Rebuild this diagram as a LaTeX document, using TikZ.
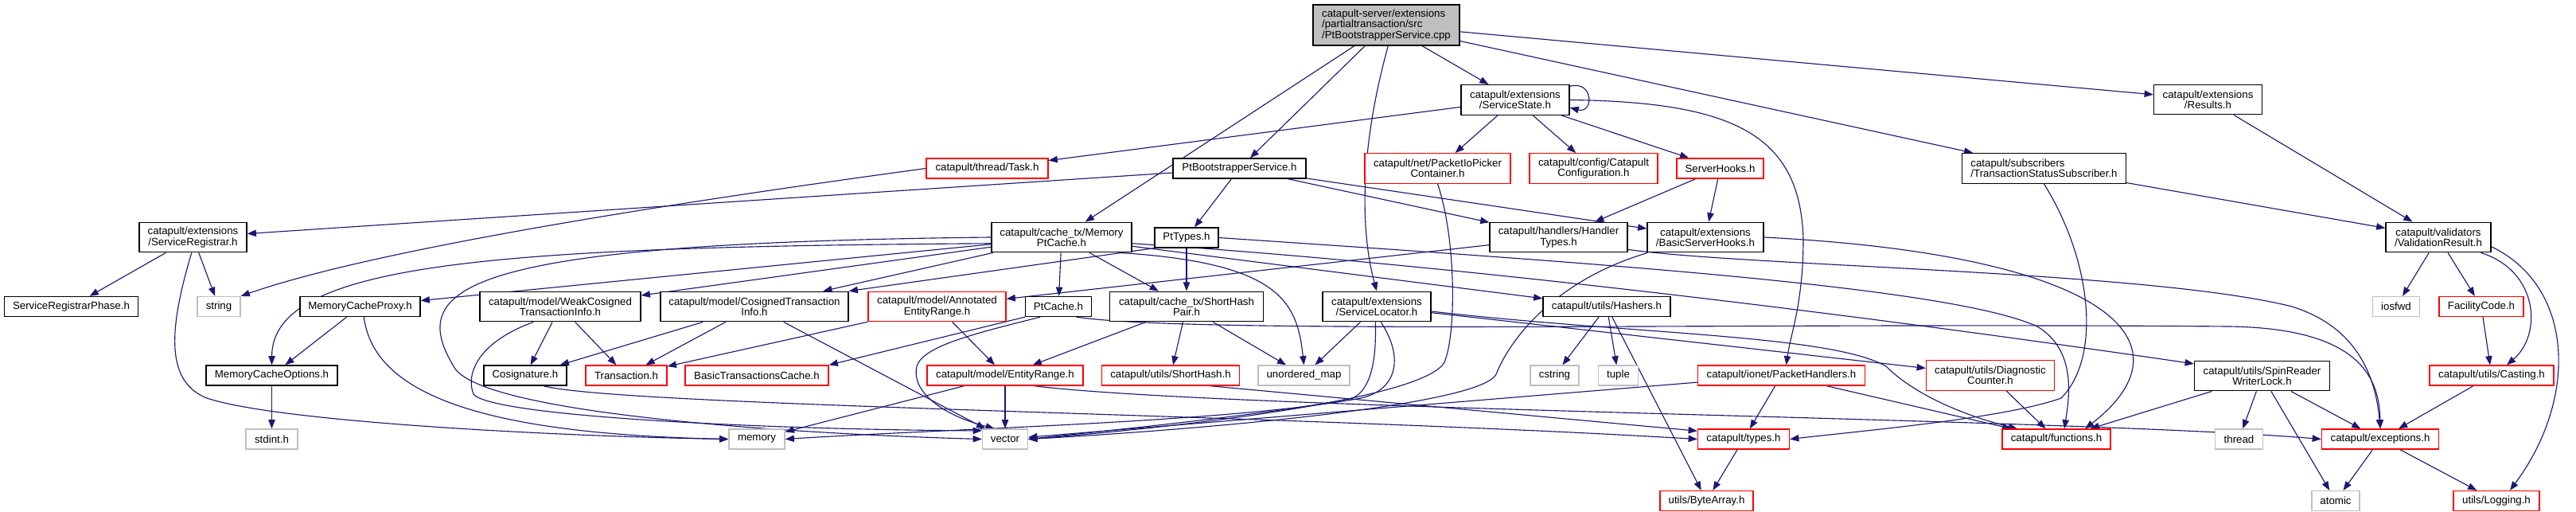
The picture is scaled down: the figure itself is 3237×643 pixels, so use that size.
\documentclass[tikz,border=0pt]{standalone}
\usepackage{fontspec}
\usepackage{tikz}
\usetikzlibrary{arrows.meta, calc, backgrounds}
\newfontfamily\dxfont{Liberation Sans}
\definecolor{edgeblue}{RGB}{25,25,112}
\definecolor{truncred}{RGB}{255,0,0}
\definecolor{extgray}{RGB}{191,191,191}
\definecolor{rootgray}{RGB}{191,191,191}

\begin{document}
\begin{tikzpicture}[
  x=0.025cm, y=-0.025cm,
  file/.style={rectangle, draw=black, line width=0.9pt, fill=white, align=center,
               font=\dxfont\fontsize{9.45}{9.4}\selectfont, inner xsep=3pt, inner ysep=2pt,
               minimum height=0.625cm},
  trunc/.style={file, draw=truncred},
  ext/.style={file, draw=extgray},
  root/.style={file, fill=rootgray},
  bw/.style={minimum width=#1*0.025cm},
  two/.style={minimum height=0.94cm},
  three/.style={minimum height=1.275cm},
  dep/.style={draw=edgeblue, line width=0.8pt, -{Triangle[length=8pt, width=6pt]}}
]
\useasboundingbox (0,0) rectangle (3237,643);

% --- top ---
\node[root, bw=184, three, align=left] (main) at (1742,31.5)
  {catapult-server/extensions\\/partialtransaction/src\\/PtBootstrapperService.cpp};
\node[file, bw=136, two] (svcstate) at (1904,125.5) {catapult/extensions\\/ServiceState.h};
\node[file, bw=136, two] (results) at (2774.5,125) {catapult/extensions\\/Results.h};

% --- row 2 ---
\node[trunc, bw=153] (task) at (1240.5,211.5) {catapult/thread/Task.h};
\node[file, bw=167] (ptbsh) at (1557.5,211.5) {PtBootstrapperService.h};
\node[trunc, bw=183, two] (iopicker) at (1806.5,211.5) {catapult/net/PacketIoPicker\\Container.h};
\node[trunc, bw=161, two] (catconf) at (2002.5,211.5) {catapult/config/Catapult\\Configuration.h};
\node[trunc, bw=109] (srvhooks) at (2161.5,211.5) {ServerHooks.h};
\node[file, bw=206, two, align=left] (tss) at (2568.5,211.5) {catapult/subscribers\\/TransactionStatusSubscriber.h};

% --- row 3 ---
\node[file, bw=135, two] (svcreg) at (242.5,298) {catapult/extensions\\/ServiceRegistrar.h};
\node[file, bw=176, two] (memptc) at (1334,298) {catapult/cache\_tx/Memory\\PtCache.h};
\node[file, bw=80] (pttypes) at (1491,298.5) {PtTypes.h};
\node[file, bw=173, two] (handlers) at (1958.5,298) {catapult/handlers/Handler\\Types.h};
\node[file, bw=146, two] (bshooks) at (2143,298) {catapult/extensions\\/BasicServerHooks.h};
\node[file, bw=132, two] (valres) at (3064,298) {catapult/validators\\/ValidationResult.h};

% --- row 4 ---
\node[file, bw=168] (regphase) at (89.5,385) {ServiceRegistrarPhase.h};
\node[ext, bw=54] (string) at (275,385) {string};
\node[file, bw=151] (mcproxy) at (452.5,385) {MemoryCacheProxy.h};
\node[file, bw=202, two] (weakcos) at (704,385) {catapult/model/WeakCosigned\\TransactionInfo.h};
\node[file, bw=236, two] (cosinfo) at (948,385) {catapult/model/CosignedTransaction\\Info.h};
\node[trunc, bw=173, two] (annot) at (1177.5,385) {catapult/model/Annotated\\EntityRange.h};
\node[file, bw=83] (ptcache) at (1330,385) {PtCache.h};
\node[file, bw=193, two] (shpair) at (1491,385) {catapult/cache\_tx/ShortHash\\Pair.h};
\node[file, bw=136, two] (svcloc) at (1730,385) {catapult/extensions\\/ServiceLocator.h};
\node[file, bw=160] (hashers) at (2019,385) {catapult/utils/Hashers.h};
\node[ext, bw=59] (iosfwd) at (3011,385) {iosfwd};
\node[trunc, bw=106] (faccode) at (3118,385) {FacilityCode.h};

% --- row 5 ---
\node[file, bw=165] (mcopts) at (341.5,471.5) {MemoryCacheOptions.h};
\node[file, bw=104] (cosig) at (660,471.5) {Cosignature.h};
\node[trunc, bw=102] (trans) at (787,471.5) {Transaction.h};
\node[trunc, bw=180] (btcache) at (951,471.5) {BasicTransactionsCache.h};
\node[trunc, bw=196] (entrange) at (1263,471.5) {catapult/model/EntityRange.h};
\node[trunc, bw=173] (shorthash) at (1471,471.5) {catapult/utils/ShortHash.h};
\node[ext, bw=115] (umap) at (1638.5,471.5) {unordered\_map};
\node[ext, bw=61] (cstring) at (1953.5,471.5) {cstring};
\node[ext, bw=50] (tuple) at (2033.5,471.5) {tuple};
\node[trunc, bw=210] (pkthand) at (2238.5,471.5) {catapult/ionet/PacketHandlers.h};
\node[trunc, bw=161, two] (diagcnt) at (2501,471.5) {catapult/utils/Diagnostic\\Counter.h};
\node[file, bw=170, two] (spinlock) at (2842.5,472) {catapult/utils/SpinReader\\WriterLock.h};
\node[trunc, bw=156] (casting) at (3131,471.5) {catapult/utils/Casting.h};

% --- row 6 ---
\node[ext, bw=65] (stdint) at (341.5,551.5) {stdint.h};
\node[ext, bw=70] (memory) at (951,551.5) {memory};
\node[ext, bw=57] (vector) at (1263,551.5) {vector};
\node[trunc, bw=115] (types) at (2191,551.5) {catapult/types.h};
\node[trunc, bw=136] (functions) at (2584,551.5) {catapult/functions.h};
\node[ext, bw=60] (thread) at (2813.5,551.5) {thread};
\node[trunc, bw=147] (exceptions) at (2991,551.5) {catapult/exceptions.h};

% --- row 7 ---
\node[trunc, bw=117] (bytearray) at (2144.5,629) {utils/ByteArray.h};
\node[ext, bw=60] (atomic) at (2935,629) {atomic};
\node[trunc, bw=108] (logging) at (3137,629) {utils/Logging.h};

\begin{scope}[on background layer]
% cpp
\draw[dep] (main) -- (svcstate);
\draw[dep] (main) -- (memptc);
\draw[dep] (main) -- (ptbsh);
\draw[dep] (main.-85) .. controls (1705,200) and (1712,300) .. (svcloc.north);
\draw[dep] (main) -- (tss);
\draw[dep] (main) -- (results);

% ServiceState.h
\draw[dep] (svcstate.14) to[out=15, in=-15, looseness=3] (svcstate.-8);
\draw[dep] (svcstate) -- (task);
\draw[dep] (svcstate) -- (iopicker);
\draw[dep] (svcstate) -- (catconf);
\draw[dep] (svcstate) -- (srvhooks);
\draw[dep] (svcstate.east) .. controls (2180,128) and (2262,170) .. (2266,300)
  .. controls (2266,380) and (2250,420) .. ($(pkthand.north)+(6,0)$);

\draw[dep] (task.west) .. controls (880,250) and (480,310) .. (string.north east);

% PtBootstrapperService.h
\draw[dep] (ptbsh) -- (svcreg);
\draw[dep] (ptbsh) -- (pttypes);
\draw[dep] (ptbsh) -- (handlers);
\draw[dep] (ptbsh) -- (bshooks);

\draw[dep] (iopicker.south) .. controls (1830,300) and (1830,420) .. (1815,455)
  .. controls (1790,500) and (1500,535) .. (vector.east);
\draw[dep] (srvhooks) -- (handlers);
\draw[dep] (srvhooks) -- (bshooks);

\draw[dep] (tss) -- (valres);
\draw[dep] (tss.south) .. controls (2630,330) and (2640,450) .. (2590,500)
  .. controls (2520,525) and (2350,540) .. (types.east);
\draw[dep] (results) -- (valres);

% validators
\draw[dep] (valres) -- (iosfwd);
\draw[dep] (valres) -- (faccode);
\draw[dep] (valres.-20) .. controls (3190,340) and (3195,420) .. ($(casting.north)+(19,0)$);
\draw[dep] (valres.-10) .. controls (3235,360) and (3240,500) .. ($(logging.north)+(17,0)$);
\draw[dep] (faccode) -- (casting);
\draw[dep] (casting) -- (exceptions);
\draw[dep] (exceptions) -- (atomic);
\draw[dep] (exceptions) -- (logging);

\draw[dep] (spinlock) -- (functions);
\draw[dep] (spinlock) -- (thread);
\draw[dep] (spinlock) -- (atomic);
\draw[dep] (spinlock) -- (exceptions);
\draw[dep] (diagcnt) -- (functions);
\draw[dep] (pkthand) -- (types);
\draw[dep] (pkthand) -- (functions);
\draw[dep] (pkthand) -- (vector);
\draw[dep] (types) -- (bytearray);
\draw[dep] (hashers) -- (cstring);
\draw[dep] (hashers) -- (tuple);
\draw[dep] (hashers) -- (bytearray);

% MemoryPtCache.h
\draw[dep] (memptc) -- (mcproxy);
\draw[dep] (memptc.185) .. controls (620,310) and (342,330) .. (mcopts.north);
\draw[dep] (memptc) -- (weakcos);
\draw[dep] (memptc) -- (cosinfo);
\draw[dep] (memptc) -- (ptcache);
\draw[dep] (memptc) -- (shpair);
\draw[dep] (memptc.-15) .. controls (1610,330) and (1630,380) .. (umap.north);
\draw[dep] (memptc) -- (hashers);
\draw[dep] (memptc.-5) .. controls (1800,330) and (2300,390) .. (spinlock.170);
\draw[dep] (memptc.west) .. controls (580,305) and (510,360) .. (570,460)
  .. controls (600,520) and (1000,545) .. (vector.west);

\draw[dep] (mcproxy) -- (mcopts);
\draw[dep] (mcproxy.-70) .. controls (470,500) and (620,545) .. (memory.west);
\draw[dep] (svcreg) -- (regphase);
\draw[dep] (svcreg) -- (string);
\draw[dep] (svcreg.-95) .. controls (210,420) and (210,480) .. (260,500)
  .. controls (350,530) and (700,548) .. (memory.west);
\draw[dep] (mcopts) -- (stdint);

% model
\draw[dep] (weakcos) -- (cosig);
\draw[dep] (weakcos) -- (trans);
\draw[dep] (weakcos.-150) .. controls (600,430) and (585,470) .. (595,495)
  .. controls (620,525) and (1000,540) .. (vector.160);
\draw[dep] (cosinfo) -- (cosig);
\draw[dep] (cosinfo) -- (trans);
\draw[dep] (cosinfo) -- (vector);
\draw[dep] (annot) -- (entrange);
\draw[dep] (annot) -- (trans);
\draw[dep] (cosig.-30) .. controls (780,510) and (1600,520) .. (types.west);

% PtCache.h
\draw[dep] (ptcache.south west) -- (btcache.north east);
\draw[dep] (ptcache.-150) .. controls (1220,420) and (1160,435) .. (1152,460)
  .. controls (1145,490) and (1180,520) .. (vector.135);
\draw[dep] (ptcache.-30) .. controls (1500,420) and (2200,405) .. (2800,410)
  .. controls (2960,412) and (2990,470) .. (exceptions.north);

\draw[dep] (shpair) -- (entrange);
\draw[dep] (shpair) -- (shorthash);
\draw[dep] (shpair) -- (umap);
\draw[dep] (entrange) -- (memory);
\draw[dep] (entrange) -- (vector);
\draw[dep] (entrange.-20) .. controls (1550,515) and (2600,525) .. (exceptions.west);
\draw[dep] (shorthash.-15) -- (types.170);

% ServiceLocator.h
\draw[dep] (svcloc) -- (umap);
\draw[dep] (svcloc.-95) .. controls (1730,460) and (1720,490) .. (1700,500)
  .. controls (1600,520) and (1400,540) .. (vector.east);
\draw[dep] (svcloc.-75) .. controls (1765,450) and (1755,490) .. (1710,500)
  .. controls (1550,530) and (1200,538) .. (memory.east);
\draw[dep] (svcloc) -- (diagcnt);
\draw[dep] (svcloc.-5) .. controls (2050,420) and (2300,420) .. (2370,460)
  .. controls (2410,500) and (2480,525) .. (functions.165);

% handlers, hooks, PtTypes.h
\draw[dep] (handlers) -- (annot);
\draw[dep] (handlers.-10) .. controls (2200,335) and (2700,340) .. (2880,385)
  .. controls (2960,410) and (2985,470) .. (exceptions.north);
\draw[dep] (bshooks.east) .. controls (2650,320) and (2760,430) .. (functions.20);
\draw[dep] (bshooks.-165) .. controls (1960,350) and (1900,420) .. (1880,470)
  .. controls (1860,510) and (1500,540) .. (vector.east);
\draw[dep] (pttypes) -- (shpair);
\draw[dep] (pttypes.south west) -- (cosinfo.north east);
\draw[dep] (pttypes.east) .. controls (2000,330) and (2450,360) .. (2560,410)
  .. controls (2610,440) and (2600,500) .. ($(functions.north)+(10,0)$);
\end{scope}

\end{tikzpicture}
\end{document}
